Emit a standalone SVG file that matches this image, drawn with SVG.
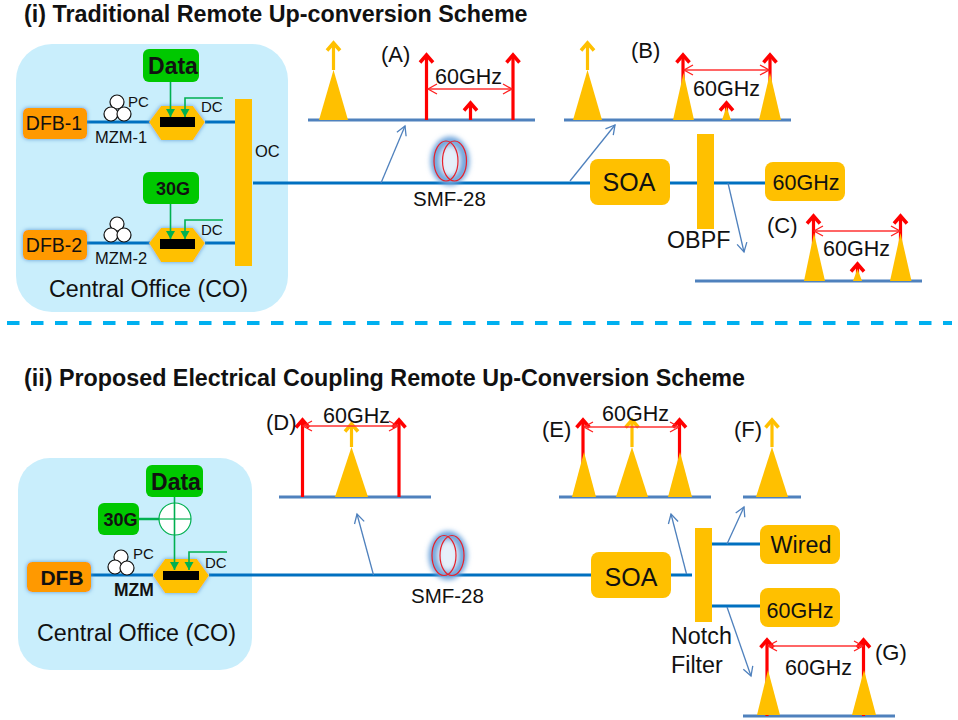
<svg xmlns="http://www.w3.org/2000/svg" width="958" height="720" viewBox="0 0 958 720">
<style>
text{font-family:"Liberation Sans",Arial,sans-serif;fill:#111}
.title{font-weight:bold;font-size:23.300px}
.co{fill:#C9EEFC}
.gold{fill:#FFC000}
.laser{fill:#FF9900;filter:url(#glow)}
.hex{fill:#FFC000;filter:url(#glow)}
.green{fill:#00C800}
.bar{fill:#000}
.pc{fill:#fff;stroke:#111;stroke-width:1.2}
.fib{stroke:#0070C0;stroke-width:3;fill:none}
.gl{stroke:#00B050;stroke-width:1.6;fill:none}
.gla{stroke:#00B050;stroke-width:1.6;fill:none;marker-end:url(#gh)}
.tap{stroke:#4F81BD;stroke-width:1.3;fill:none;marker-end:url(#open)}
.axis{stroke:#4F81BD;stroke-width:3}
.ra{stroke:#FF0000;stroke-width:3.200;fill:none;marker-end:url(#redh)}
.ga{stroke:#FFC000;stroke-width:3.200;fill:none;marker-end:url(#goldh)}
.span{stroke:#FF3333;stroke-width:1.3;fill:none;marker-start:url(#spanS);marker-end:url(#spanE)}
.coil{fill:none;stroke:#E8212B;stroke-width:1.2}
.coilglow{fill:#E6F0FA;stroke:#6FA5DC;stroke-width:9;filter:url(#blur)}
.f25{font-size:25px}.f23{font-size:23.300px}.f21{font-size:21.500px}.f22{font-size:22px}.f20{font-size:20.500px}.f19{font-size:19.500px}.f18{font-size:18px}.f16{font-size:16.500px}.f15{font-size:15px}
.m{text-anchor:middle}.b{font-weight:bold}
</style>
<defs>
<filter id="glow" x="-20%" y="-30%" width="140%" height="160%"><feDropShadow dx="0" dy="0" stdDeviation="2" flood-color="#5B9BD5"/></filter>
<filter id="blur" x="-50%" y="-30%" width="200%" height="160%"><feGaussianBlur stdDeviation="2.5"/></filter>
<marker id="redh" markerUnits="userSpaceOnUse" markerWidth="18" markerHeight="18" refX="12" refY="8" orient="auto" overflow="visible"><path d="M4.500 1.500L12 8L4.500 14.500" fill="none" stroke="#FF0000" stroke-width="3.500"/></marker>
<marker id="goldh" markerUnits="userSpaceOnUse" markerWidth="18" markerHeight="18" refX="12" refY="8" orient="auto" overflow="visible"><path d="M4.500 1.500L12 8L4.500 14.500" fill="none" stroke="#FFC000" stroke-width="3.500"/></marker>
<marker id="gh" markerUnits="userSpaceOnUse" markerWidth="12" markerHeight="12" refX="8" refY="5" orient="auto" overflow="visible"><path d="M0 0.500L8 5L0 9.500Z" fill="#00B050"/></marker>
<marker id="open" markerUnits="userSpaceOnUse" markerWidth="14" markerHeight="14" refX="10" refY="6" orient="auto" overflow="visible"><path d="M1 1L10 6L1 11" fill="none" stroke="#4F81BD" stroke-width="1.3"/></marker>
<marker id="spanE" markerUnits="userSpaceOnUse" markerWidth="14" markerHeight="14" refX="10" refY="6" orient="auto" overflow="visible"><path d="M1 1L10 6L1 11" fill="none" stroke="#FF2020" stroke-width="1.3"/></marker>
<marker id="spanS" markerUnits="userSpaceOnUse" markerWidth="14" markerHeight="14" refX="0" refY="6" orient="auto" overflow="visible"><path d="M9 1L0 6L9 11" fill="none" stroke="#FF2020" stroke-width="1.3"/></marker>
</defs>
<rect width="958" height="720" fill="#fff"/>

<text class="title" x="24" y="22">(i) Traditional Remote Up-conversion Scheme</text>
<text class="title" x="24" y="386">(ii) Proposed Electrical Coupling Remote Up-Conversion Scheme</text>
<path d="M7 323H952" stroke="#00B0F0" stroke-width="4" stroke-dasharray="12.5 11.5" fill="none"/>

<g id="co1"><rect class="co" x="16" y="44" width="272" height="268" rx="36"/><text class="f23" x="49" y="297">Central Office (CO)</text></g>
<g id="co2"><rect class="co" x="18" y="458" width="234" height="212" rx="32"/><text class="f23" x="37" y="641">Central Office (CO)</text></g>

<g id="connectors">
<path class="fib" d="M87 122H150M205 122H235M87 243H150M205 243H235M253 183H590M650 183H697M714 183H765"/>
<path class="fib" d="M91 575H153M209 575H591M671 575H692M712 544H760M712 606H760"/>
<path class="tap" d="M381 183L405 126"/>
<path class="tap" d="M570 181L615 125"/>
<path class="tap" d="M728 183L744 252"/>
<path class="tap" d="M373.500 575L357 514"/>
<path class="tap" d="M686.500 574L671 514"/>
<path class="tap" d="M727 544L744 507"/>
<path class="tap" d="M727 607L751 676"/>
</g>

<g id="dfb1"><rect class="laser" x="23" y="108" width="64" height="31" rx="5"/><text class="f19 m" x="54" y="130">DFB-1</text></g>
<g id="dfb2"><rect class="laser" x="23" y="230" width="64" height="30" rx="5"/><text class="f19 m" x="54" y="252">DFB-2</text></g>
<g id="dfb3"><rect class="laser" x="27" y="562" width="64" height="30" rx="5"/><text class="m b" style="font-size:21px" x="62" y="585">DFB</text></g>

<g id="pc1"><circle class="pc" cx="117" cy="102" r="7"/><circle class="pc" cx="111" cy="114" r="7"/><circle class="pc" cx="124" cy="114" r="7"/><text class="f15" x="128" y="107">PC</text></g>
<g id="pc2"><circle class="pc" cx="117" cy="224" r="7"/><circle class="pc" cx="111" cy="235" r="7"/><circle class="pc" cx="124" cy="235" r="7"/></g>
<g id="pc3"><circle class="pc" cx="121" cy="557" r="7"/><circle class="pc" cx="115" cy="567" r="7"/><circle class="pc" cx="127" cy="568" r="7"/><text class="f15" x="133" y="559">PC</text></g>

<g id="mzm1"><path class="hex" d="M149 122L161 106H193L205 122L193 140H161Z"/><rect class="bar" x="160" y="117" width="35" height="10"/><text class="f15" x="201" y="112">DC</text><text class="f16" x="95" y="143">MZM-1</text></g>
<g id="mzm2"><path class="hex" d="M149 243L161 228H193L205 243L193 262H161Z"/><rect class="bar" x="160" y="239" width="35" height="10"/><text class="f15" x="201" y="235">DC</text><text class="f16" x="95" y="264">MZM-2</text></g>
<g id="mzm3"><path class="hex" d="M153 575.500L165 559H197L209 575.500L197 593H165Z"/><rect class="bar" x="163" y="571" width="36" height="9"/><text class="f15" x="205" y="568">DC</text><text class="b" style="font-size:17.500px" x="114" y="596">MZM</text></g>

<g id="data1"><rect class="green" x="143" y="49" width="56" height="33" rx="6"/><text class="m b" style="font-size:23px" x="173" y="74">Data</text></g>
<g id="g30a"><rect class="green" x="143" y="172" width="56" height="32" rx="6"/><text class="f18 m b" x="173" y="195">30G</text></g>
<g id="data2"><rect class="green" x="146" y="465" width="57" height="32" rx="6"/><text class="m b" style="font-size:23px" x="176" y="490">Data</text></g>
<g id="g30b"><rect class="green" x="98" y="503" width="41" height="32" rx="6"/><text class="f18 m b" x="120.500" y="526">30G</text></g>
<g id="adder"><circle cx="175" cy="519" r="16" fill="#fff" stroke="#00B050" stroke-width="1.2"/><path d="M159 519H191" stroke="#00B050" stroke-width="1.2"/></g>

<g id="signal-connectors">
<path class="gla" d="M170.500 82V117"/>
<path class="gla" d="M170.500 204V239"/>
<path class="gla" d="M174.500 497V570"/>
<path class="gla" d="M223 98H185V117"/>
<path class="gla" d="M223 220H185V239"/>
<path class="gla" d="M227 552H189V570"/>
<path class="gl" style="stroke-width:2.500" d="M139 519H159"/>
</g>

<g id="oc"><rect class="gold" x="235" y="99" width="17" height="167"/><text class="f16" x="255" y="157">OC</text></g>
<g id="smf1"><ellipse class="coilglow" cx="450" cy="161" rx="15" ry="20"/><ellipse class="coil" cx="446" cy="161" rx="12" ry="20"/><ellipse class="coil" cx="454.500" cy="161" rx="12" ry="20"/><text class="f20" x="413" y="206">SMF-28</text></g>
<g id="smf2"><ellipse class="coilglow" cx="448" cy="555.500" rx="15" ry="20"/><ellipse class="coil" cx="444" cy="555.500" rx="12" ry="20"/><ellipse class="coil" cx="452" cy="555.500" rx="12" ry="20"/><text class="f20" x="411" y="603">SMF-28</text></g>
<g id="soa1"><rect class="gold" x="590" y="159" width="80" height="46" rx="8"/><text class="f25 m" x="629" y="191">SOA</text></g>
<g id="soa2"><rect class="gold" x="591" y="552" width="80" height="46" rx="8"/><text class="f25 m" x="631" y="586">SOA</text></g>
<g id="obpf"><rect class="gold" x="697" y="134" width="17" height="95"/><text class="f23" x="667" y="248">OBPF</text></g>
<g id="box60a"><rect class="gold" x="765" y="162" width="80" height="39" rx="8"/><text class="f21 m" x="806" y="190">60GHz</text></g>
<g id="notch"><rect class="gold" x="695" y="528" width="17" height="94"/><text class="f23" x="671" y="644">Notch</text><text class="f23" x="671" y="673">Filter</text></g>
<g id="wired"><rect class="gold" x="760" y="525" width="80" height="39" rx="8"/><text class="f23 m" x="801" y="553">Wired</text></g>
<g id="box60b"><rect class="gold" x="760" y="588" width="80" height="39" rx="8"/><text class="f21 m" x="800" y="618">60GHz</text></g>

<g id="specA"><line class="axis" x1="308" y1="120" x2="535" y2="120"/>
<path class="ga" d="M333.500 70V43"/><path class="gold" d="M319 120L333.500 70L348 120Z"/>
<path class="ra" d="M426.500 120V55"/><path class="ra" d="M513 120V55"/><path class="ra" d="M470.500 120V103"/>
<path class="span" d="M428 89H512"/><text class="f21" x="435" y="84">60GHz</text><text class="f22" x="381" y="62">(A)</text></g>

<g id="specB"><line class="axis" x1="564" y1="120" x2="791" y2="120"/>
<path class="ga" d="M587.500 70V43"/><path class="gold" d="M573 120L587.500 70L602 120Z"/>
<path class="ra" d="M683 120V55"/><path class="ra" d="M770 120V55"/><path class="ra" d="M726.500 118V103"/>
<path class="gold" d="M673 120L683.500 73L694 120Z"/><path class="gold" d="M759 120L770 73L781 120Z"/><path class="gold" d="M722 120L726.500 107L731 120Z"/>
<path class="span" d="M684 70H769"/><text class="f21" x="693" y="96">60GHz</text><text class="f22" x="631" y="58">(B)</text></g>

<g id="specC"><line class="axis" x1="695" y1="281" x2="922" y2="281"/>
<path class="ra" d="M813.500 281V216"/><path class="ra" d="M900.500 281V216"/><path class="ra" d="M857.500 280V264"/>
<path class="gold" d="M804 281L814 233L825 281Z"/><path class="gold" d="M890 281L900.500 233L911.500 281Z"/><path class="gold" d="M853 281L857.500 269L862 281Z"/>
<path class="span" d="M814 231H900"/><text class="f21" x="823" y="256">60GHz</text><text class="f22" x="767" y="233">(C)</text></g>

<g id="specD"><line class="axis" x1="279" y1="497" x2="431" y2="497"/>
<path class="ra" d="M302.500 497V420"/><path class="ra" d="M399 497V420"/><path class="ga" d="M351.500 447V424"/>
<path class="gold" d="M335 497L351.500 447L368 497Z"/>
<path class="span" d="M303 426H398"/><text class="f21" x="323" y="423">60GHz</text><text class="f22" x="266" y="430">(D)</text></g>

<g id="specE"><line class="axis" x1="559" y1="497" x2="711" y2="497"/>
<path class="ra" d="M583 497V420"/><path class="ra" d="M679.500 497V420"/><path class="ga" d="M632 447V420"/>
<path class="gold" d="M572 497L584 452L596 497Z"/><path class="gold" d="M616 497L632 447L648 497Z"/><path class="gold" d="M668 497L680 452L692 497Z"/>
<path class="span" d="M584 427H679"/><text class="f21" x="602" y="421">60GHz</text><text class="f22" x="542" y="437">(E)</text></g>

<g id="specF"><line class="axis" x1="743" y1="497" x2="801" y2="497"/>
<path class="ga" d="M772 447V420"/><path class="gold" d="M756 497L772 447L788 497Z"/><text class="f22" x="734" y="437">(F)</text></g>

<g id="specG"><line class="axis" x1="743" y1="716" x2="895" y2="716"/>
<path class="ra" d="M767 716V640"/><path class="ra" d="M863.500 716V640"/>
<path class="gold" d="M757 715L768 670L780 715Z"/><path class="gold" d="M852 715L864 670L876 715Z"/>
<path class="span" d="M768 646H863"/><text class="f21" x="785" y="675">60GHz</text><text class="f22" x="875" y="660">(G)</text></g>
</svg>
